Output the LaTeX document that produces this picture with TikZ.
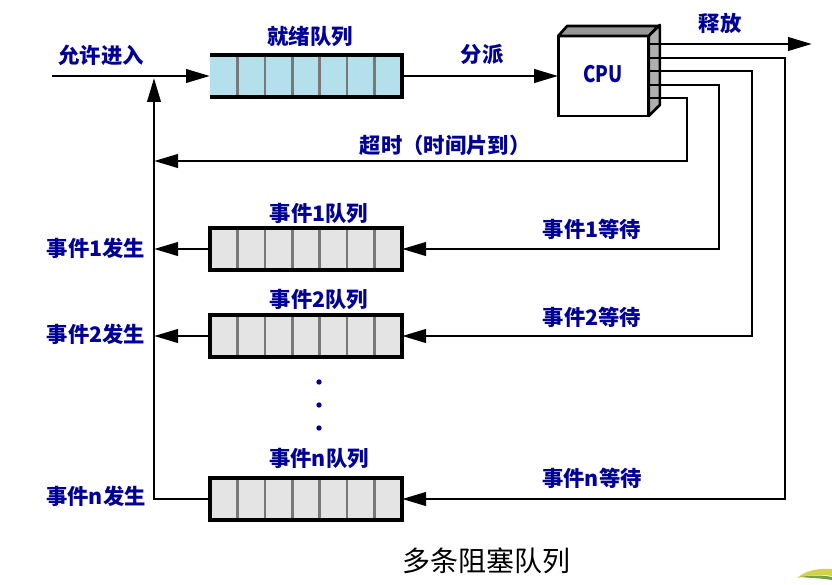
\documentclass[tikz,border=0pt]{standalone}
\usepackage{fontspec}
\newfontfamily\cjk{Noto Sans CJK SC}
\usetikzlibrary{arrows.meta,calc}
\definecolor{lblue}{RGB}{0,0,150}
\definecolor{qblue}{RGB}{180,224,236}
\definecolor{qgray}{RGB}{228,228,228}
\definecolor{divgray}{RGB}{120,120,120}
\definecolor{topgray}{RGB}{150,150,150}
\definecolor{sidegray}{RGB}{175,175,175}
\definecolor{leafy}{RGB}{210,210,70}
\definecolor{leafg}{RGB}{120,160,60}
\begin{document}
\begin{tikzpicture}[x=0.75pt,y=-0.75pt,
  lbl/.style={font=\cjk\bfseries\fontsize{16}{18}\selectfont, text=lblue, inner sep=0pt},
  conn/.style={line width=2.2pt, draw=black, line join=miter},
  arr/.style={conn, -{Triangle[length=18pt,width=10pt]}},
  qbox/.style={minimum width=144pt, minimum height=31.5pt, inner sep=0pt, outer sep=0pt},
  qborder/.style={line width=2.4pt, draw=black},
  qdiv/.style={line width=1.9pt, draw=divgray},
  cpubox/.style={draw=black, line width=2.2pt, fill=white, minimum width=68pt, minimum height=60pt, inner sep=0pt, outer sep=0pt},
  dot/.style={circle, fill=lblue, inner sep=0pt, minimum size=4pt}]
\useasboundingbox (0,0) rectangle (832,585);

% ---------- queues ----------
\node[qbox, fill=qblue] (rq) at (306,76) {};
\node[qbox, fill=qgray] (q1) at (306,249) {};
\node[qbox, fill=qgray] (q2) at (306,336) {};
\node[qbox, fill=qgray] (qn) at (306,499) {};
\foreach \q in {rq,q1,q2,qn}{
  \foreach \i in {1,...,6}{
    \draw[qdiv] ([xshift=\i*20.57pt]\q.north west) -- ([xshift=\i*20.57pt]\q.south west);
  }
}
\draw[qborder] (rq.north west) -- (rq.north east) -- (rq.south east) -- (rq.south west);
\foreach \q in {q1,q2,qn}{
  \draw[qborder] (\q.north west) rectangle (\q.south east);
}

% ---------- CPU ----------
\node[cpubox] (cpu) at (603.5,76) {};
\draw[line width=2pt, fill=topgray, line join=round] (cpu.north west) -- ++(9,-10) -- ++(91,0) -- (cpu.north east) -- cycle;
\draw[line width=2pt, fill=sidegray, line join=round] (cpu.north east) -- ++(11,-11) -- ([shift={(11,-11)}]cpu.south east) -- (cpu.south east) -- cycle;
\node[font=\cjk\bfseries\fontsize{17}{19}\selectfont, text=lblue, inner sep=0pt] (cpulbl) at (603,74) {\scalebox{0.82}[1]{CPU}};

% pins
\coordinate (p1) at (649,44);
\coordinate (p2) at (649,58);
\coordinate (p3) at (649,71);
\coordinate (p4) at (649,85);
\coordinate (p5) at (649,98);

% ---------- coordinates ----------
\coordinate (entry) at (52,76);
\coordinate (vtop) at (154,78);
\coordinate (rel) at (812,44);
\coordinate (cn) at (785,499);
\coordinate (c2) at (752,336);
\coordinate (c1) at (719,249);
\coordinate (ct) at (687,161);
\coordinate (tend) at (154,161);

% ---------- connectors ----------
\draw[arr] (entry) -- (rq.west);
\draw[arr] (rq.east) -- (cpu.west);
\draw[arr] (p1) -- (rel);
\draw[arr] (p2) -| (cn) -- (qn.east);
\draw[arr] (p3) -| (c2) -- (q2.east);
\draw[arr] (p4) -| (c1) -- (q1.east);
\draw[arr] (p5) -| (ct) -- (tend);
\draw[arr] (q1.west) -- (q1.west -| vtop);
\draw[arr] (q2.west) -- (q2.west -| vtop);
\draw[arr] (qn.west) -| (vtop);

% ---------- labels ----------
\node[lbl] (lin) at (101,55) {允许进入};
\node[lbl] (lrq) at (310,36) {就绪队列};
\node[lbl] (ldisp) at (482,54) {分派};
\node[lbl] (lrel) at (720,23) {释放};
\node[lbl] (lto) at (445,145) {超时（时间片到）};
\node[lbl] (lq1) at (319,213) {事件1队列};
\node[lbl] (lq2) at (319,299) {事件2队列};
\node[lbl] (lqn) at (319,458) {事件n队列};
\node[lbl] (lo1) at (96,248) {事件1发生};
\node[lbl] (lo2) at (96,334) {事件2发生};
\node[lbl] (lon) at (96,496) {事件n发生};
\node[lbl] (lw1) at (592,229) {事件1等待};
\node[lbl] (lw2) at (592,317) {事件2等待};
\node[lbl] (lwn) at (592,478) {事件n等待};

\node[dot] (d1) at (319,382) {};
\node[dot] (d2) at (319,405) {};
\node[dot] (d3) at (319,428) {};

\node[font=\cjk\fontsize{21}{24}\selectfont, text=black, inner sep=0pt] (cap) at (486,561) {多条阻塞队列};

% leaf tip
\fill[leafy] (797,578) .. controls (806,570) and (820,568) .. (832,569) -- (832,576) .. controls (820,574) and (808,575) .. (797,578) -- cycle;
\fill[leafg] (800,577) .. controls (812,575) and (822,575) .. (832,577) -- (832,580) .. controls (820,578) and (810,578) .. (800,577) -- cycle;
\end{tikzpicture}
\end{document}
